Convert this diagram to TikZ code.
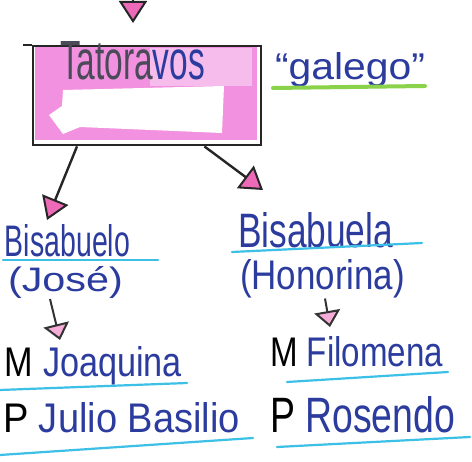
\documentclass[tikz,border=0pt]{standalone}
\usepackage{fontspec}
\usepackage{graphicx}
\setmainfont{Liberation Sans}
\usetikzlibrary{arrows.meta,calc}
\definecolor{blueink}{HTML}{2B3C9E}
\definecolor{grayink}{HTML}{4A4A58}
\definecolor{cyanline}{HTML}{3CC0E6}
\definecolor{greenline}{HTML}{8AD24A}
\definecolor{boxpink}{HTML}{F291E0}
\definecolor{lightpink}{HTML}{F6BDEC}
\definecolor{tippink}{HTML}{EC6AB8}
\tikzset{
  hand/.style={anchor=base west, inner sep=0pt, outer sep=0pt},
  conn/.style={draw=black!85, line width=2.4pt,
    -{Triangle[length=22pt,width=28pt,fill=tippink,line width=2pt]}},
  smallconn/.style={draw=black!80, line width=2pt,
    -{Triangle[length=16pt,width=26pt,fill=tippink!55,line width=2pt]}},
  uline/.style={draw=cyanline, line width=2.2pt, line cap=round},
  gline/.style={draw=greenline, line width=4pt, line cap=round},
}
\begin{document}
\begin{tikzpicture}[x=1pt,y=-1pt]
\useasboundingbox[fill=white] (0,0) rectangle (472,462);
% box
\fill[boxpink] (35,47) rectangle (257,140);
\fill[lightpink] (150,48) rectangle (252,86);
\fill[white] (63,90) -- (224,86) -- (222,133) -- (80,127) -- (63,134) -- (49,115) -- (62,106) -- cycle;
\node[draw=black!85, line width=2.4pt, minimum width=228pt, minimum height=99pt, inner sep=0pt, anchor=north west] (box) at (32,45) {};
\draw[black!85, line width=2.4pt] (box.north west) -- ++(-9,0);
\node[hand] (tat) at (60,80) {\resizebox{145pt}{38pt}{\textcolor{grayink}{Tatora}\textcolor{blueink}{vos}}};
% galego
\node[hand] (gal) at (275,80) {\resizebox{150pt}{27pt}{\textcolor{blueink}{“galego”}}};
\draw[gline] (273,88) -- (425,86);
% top arrow
\coordinate (topc) at (133,-10);
\draw[conn, shorten >=22pt] (topc) -- (box.north -| topc);
% generation texts
\node[hand] (bis1) at (5,257) {\resizebox{125pt}{32pt}{\textcolor{blueink}{Bisabuelo}}};
\draw[uline] (3,260) -- (158,260);
\node[hand] (jose) at (8,292) {\resizebox{115pt}{25pt}{\textcolor{blueink}{(José)}}};
\node[hand] (bis2) at (238,248) {\resizebox{155pt}{35pt}{\textcolor{blueink}{Bisabuela}}};
\draw[uline] (232,252) -- (422,243);
\node[hand] (hon) at (240,290) {\resizebox{165pt}{30pt}{\textcolor{blueink}{(Honorina)}}};
% parents
\node[hand] (joa) at (5,377) {\resizebox{177pt}{30pt}{\textcolor{black}{M} \textcolor{blueink}{Joaquina}}};
\draw[uline] (0,390) -- (187,383);
\node[hand] (fil) at (270,367) {\resizebox{173pt}{30pt}{\textcolor{black}{M} \textcolor{blueink}{Filomena}}};
\draw[uline] (287,382) -- (448,372);
\node[hand] (jul) at (3,433) {\resizebox{237pt}{30pt}{\textcolor{black}{P} \textcolor{blueink}{Julio Basilio}}};
\draw[uline] (0,455) -- (253,438);
\node[hand] (ros) at (270,433) {\resizebox{185pt}{36pt}{\textcolor{black}{P} \textcolor{blueink}{Rosendo}}};
\draw[uline] (277,447) -- (470,437);
% connectors
\draw[conn] ([xshift=45pt]box.south west) -- ([xshift=42pt,yshift=5pt]bis1.north west);
\draw[conn] ([xshift=-58pt]box.south east) -- ([xshift=25pt,yshift=23pt]bis2.north west);
\draw[smallconn] ([xshift=42pt]jose.south west) -- ([xshift=55pt,yshift=7pt]joa.north west);
\draw[smallconn] ([xshift=85pt]hon.south west) -- ([xshift=60pt,yshift=10pt]fil.north west);
\end{tikzpicture}
\end{document}
